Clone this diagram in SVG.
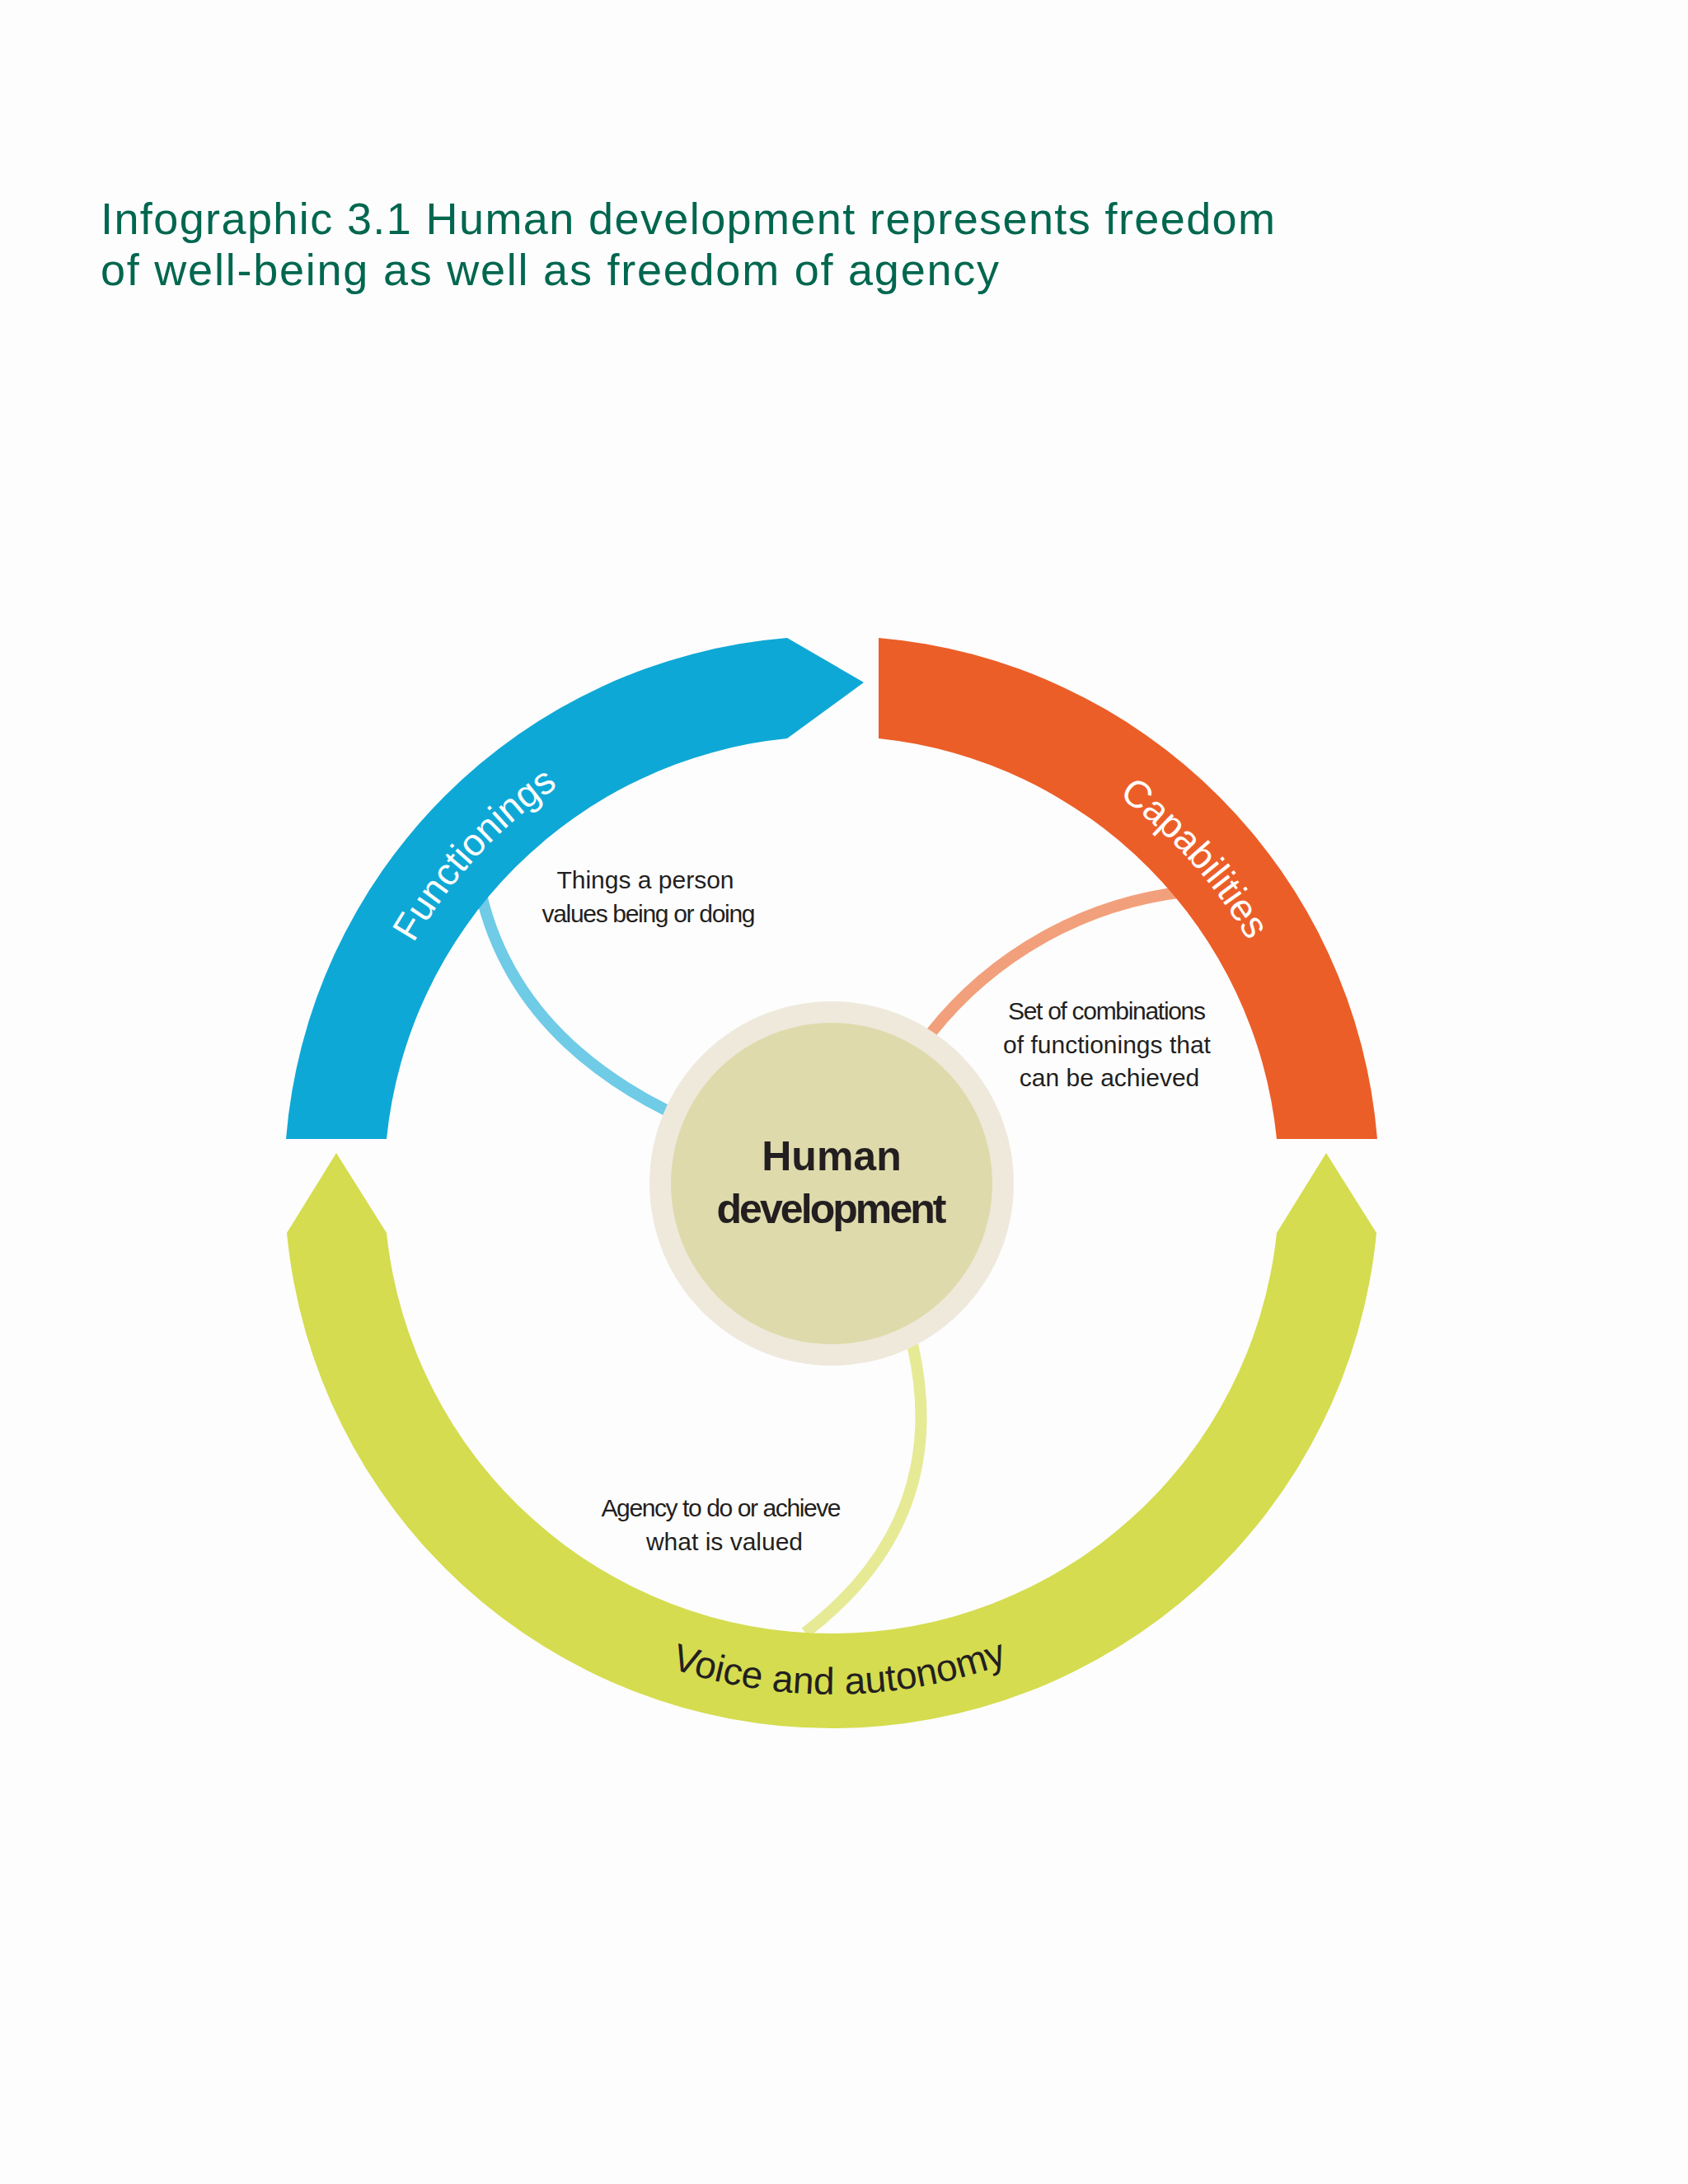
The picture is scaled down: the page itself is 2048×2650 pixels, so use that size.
<svg xmlns="http://www.w3.org/2000/svg" width="2048" height="2650" viewBox="0 0 2048 2650">
<style>
.t{font-family:"Liberation Sans Narrow","Liberation Sans",sans-serif;font-stretch:condensed}
.lab{font-size:30px;fill:#231f20;text-anchor:middle}
.arc{font-size:46px;text-anchor:middle}
.con{fill:none;stroke-width:14}
</style>
<defs>
<path id="pTopL" d="M 424 1436 A 585 585 0 0 1 1009 851"/>
<path id="pTopR" d="M 1009 851 A 585 585 0 0 1 1594 1436"/>
<path id="pBot" d="M 389 1436 A 620 620 0 0 0 1629 1436"/>
</defs>
<rect width="2048" height="2650" fill="#fdfdfd"/>
<g id="title" class="t" fill="#00674f" font-size="54">
<text x="122" y="284" textLength="1425">Infographic 3.1 Human development represents freedom</text>
<text x="122" y="346" textLength="1090">of well-being as well as freedom of agency</text>
</g>
<g id="connectors">
<path class="con" stroke="#6fcbe6" d="M 583 1082 Q 622 1253 808 1347"/>
<path class="con" stroke="#f2a07c" d="M 1437 1082 A 460 460 0 0 0 1129 1254"/>
<path class="con" stroke="#e6ea95" d="M 1107 1631 Q 1156 1844 977 1981"/>
</g>
<g id="functionings">
<path fill="#0ea8d6" d="M 347 1382 A 664 664 0 0 1 955 774 L 1048 828 L 955 896 A 543 543 0 0 0 469 1382 Z"/>
<text class="t arc" fill="#fff"><textPath href="#pTopL" startOffset="47.4%">Functionings</textPath></text>
</g>
<g id="capabilities">
<path fill="#ec5e28" d="M 1066 774 A 664 664 0 0 1 1671 1382 L 1549 1382 A 543 543 0 0 0 1066 896 Z"/>
<text class="t arc" fill="#fff"><textPath href="#pTopR" startOffset="53.5%">Capabilities</textPath></text>
</g>
<g id="voice">
<path fill="#d5dc4f" d="M 348 1496 A 664 664 0 0 0 1670 1496 L 1609 1399 L 1549 1496 A 543 543 0 0 1 469 1496 L 408 1399 Z"/>
<text class="t arc" fill="#231f20"><textPath href="#pBot" startOffset="50.5%">Voice and autonomy</textPath></text>
</g>
<g id="center">
<circle cx="1009" cy="1436" r="221" fill="#efe9dc"/>
<circle cx="1009" cy="1436" r="195" fill="#dfdaab"/>
<text class="t" x="1009" y="1420" font-size="50" font-weight="bold" fill="#231f20" text-anchor="middle">Human</text>
<text class="t" x="1009" y="1484" font-size="50" font-weight="bold" fill="#231f20" text-anchor="middle" textLength="279">development</text>
</g>
<g id="labels" class="t">
<text class="lab" x="783" y="1078">Things a person</text>
<text class="lab" x="787" y="1119" textLength="259">values being or doing</text>
<text class="lab" x="1343" y="1237" textLength="240">Set of combinations</text>
<text class="lab" x="1343" y="1278">of functionings that</text>
<text class="lab" x="1346" y="1318">can be achieved</text>
<text class="lab" x="875" y="1840" textLength="291">Agency to do or achieve</text>
<text class="lab" x="879" y="1881">what is valued</text>
</g>
</svg>
